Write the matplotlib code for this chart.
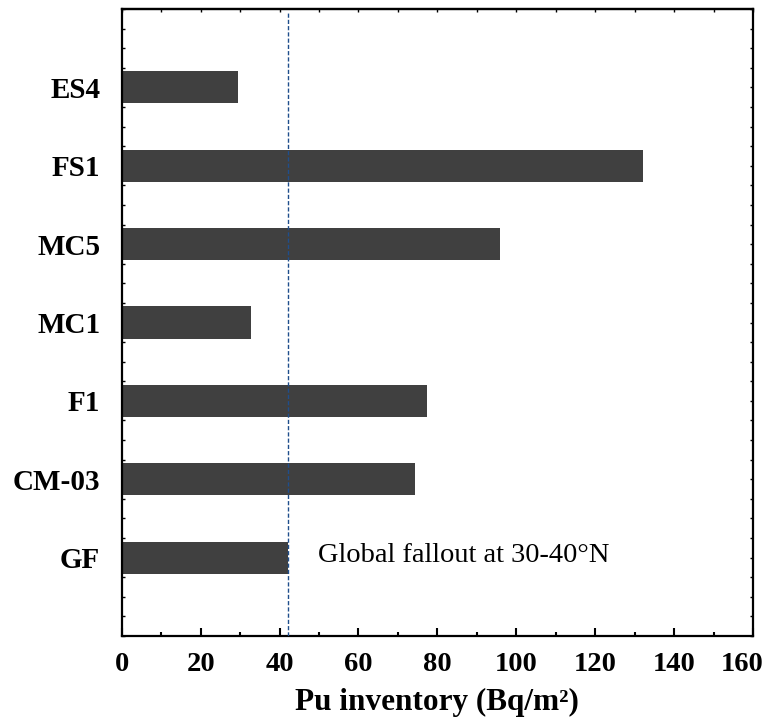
import numpy as np
import matplotlib
matplotlib.use("Agg")
import matplotlib.pyplot as plt
from matplotlib.ticker import MultipleLocator, FuncFormatter

plt.rcParams['font.family'] = ['Liberation Serif', 'DejaVu Serif']

# Pu inventory per site, bottom to top
sites = ["GF", "CM-03", "F1", "MC1", "MC5", "FS1", "ES4"]
inventory = [42.2, 74.3, 77.4, 32.8, 95.9, 132.0, 29.5]
global_fallout = 42.2
xmax = 160

fig = plt.figure(figsize=(7.67, 7.17), dpi=100)
ax = fig.add_axes([0.1587, 0.113, 0.8231, 0.8744])

ypos = np.arange(len(sites))
ax.barh(ypos, inventory, height=0.41, color='#404040', zorder=2)

ax.axvline(global_fallout, ymin=0, ymax=0.993, color='#1f4e8c', linestyle=(0, (3, 1.5)),
           linewidth=1.0, zorder=3)
ax.text(49.7, 0.03, "Global fallout at 30-40\u00b0N", fontsize=20.5, va='center', ha='left')

ax.set_xlim(0, xmax)
ax.set_ylim(-1, len(sites))

ax.xaxis.set_major_locator(MultipleLocator(20))
ax.xaxis.set_minor_locator(MultipleLocator(10))
# last label is drawn separately, nudged left so it stays inside the figure
ax.xaxis.set_major_formatter(FuncFormatter(lambda v, p: "" if v >= xmax else f"{v:.0f}"))
ax.set_yticks(ypos)
ax.set_yticklabels(sites)
ax.yaxis.set_minor_locator(MultipleLocator(0.25))

ax.tick_params(axis='x', which='major', direction='in', length=6, width=1.5,
               labelsize=20.5, pad=11.5)
ax.tick_params(axis='x', which='minor', direction='in', length=3, width=1.5)
ax.tick_params(axis='y', which='major', direction='in', length=2.5, width=1,
               right=True, labelsize=21, pad=15.5)
ax.tick_params(axis='y', which='minor', direction='in', length=2.5, width=1, right=True)
for lab in ax.get_xticklabels() + ax.get_yticklabels():
    lab.set_fontweight('bold')

ax.annotate(f"{xmax}", xy=(xmax, 0), xycoords=('data', 'axes fraction'),
            xytext=(-8, -11.5), textcoords='offset points', ha='center', va='top',
            fontsize=20.5, fontweight='bold')

# short inward ticks along the top edge
top = ax.secondary_xaxis('top')
top.xaxis.set_major_locator(MultipleLocator(10))
top.tick_params(direction='in', length=2.5, width=1, labeltop=False)
top.spines['top'].set_linewidth(1.6)

for sp in ax.spines.values():
    sp.set_linewidth(1.6)

ax.set_xlabel("Pu inventory (Bq/m\u00b2)", fontsize=22.5, fontweight='bold', labelpad=8)

fig.savefig("out.png", dpi=100)
